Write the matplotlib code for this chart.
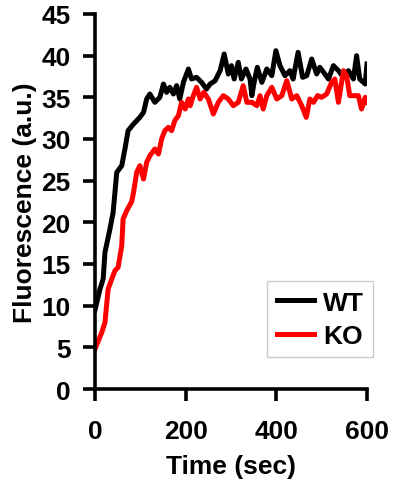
import matplotlib
matplotlib.use("Agg")
import matplotlib.pyplot as plt

# values
t_wt = [0, 4, 11, 18, 22, 33, 40, 44, 48, 59, 66, 73, 85, 99, 107, 114, 121, 132,
        143, 151, 158, 165, 173, 180, 187, 195, 206, 213, 224, 235, 246, 254, 265,
        276, 285, 294, 301, 307, 316, 323, 333, 342, 346, 351, 358, 368, 379, 390,
        399, 408, 419, 430, 437, 448, 458, 467, 478, 489, 496, 507, 515, 526, 537,
        548, 559, 570, 577, 584, 596, 600]
wt = [9.5, 10.4, 12, 13.2, 16.4, 19.2, 21.2, 23.6, 26, 26.8, 28.8, 31, 31.8, 32.6,
      33.2, 34.8, 35.4, 34.4, 35, 36.6, 35.6, 36.2, 35.4, 36.4, 34.8, 36.8, 38.4,
      37.2, 37.4, 36.8, 36, 36.6, 37, 38.2, 40.2, 37.8, 38.8, 37.2, 39.2, 37.2,
      38.4, 37.2, 35.2, 36.8, 38.6, 36.8, 38.4, 37.6, 40.6, 38.8, 37.6, 38.2, 37.2,
      40.4, 37.4, 37.6, 39.6, 37.8, 38.6, 37.8, 37.2, 38.8, 38.2, 37.4, 38.2, 37.2,
      40, 37.2, 36.6, 39]

t_ko = [0, 15, 22, 29, 37, 44, 51, 59, 62, 70, 81, 85, 92, 99, 107, 114, 121, 132,
        140, 147, 154, 162, 169, 176, 184, 191, 199, 206, 210, 217, 224, 232, 240,
        250, 261, 272, 283, 294, 305, 316, 327, 335, 346, 357, 364, 371, 379, 390,
        401, 412, 423, 434, 445, 456, 466, 474, 482, 491, 500, 511, 522, 529, 537,
        548, 555, 562, 574, 581, 588, 596, 600]
ko = [4.8, 6.8, 8, 12, 13.2, 14.2, 14.6, 17.2, 20.4, 21.4, 22.5, 23.6, 26, 26.8,
      25.2, 27.2, 28, 28.8, 28.2, 30, 31, 31.4, 31, 32.2, 32.8, 34.4, 33.6, 34.8,
      34, 35.2, 36.2, 34.8, 35.6, 34.8, 33, 34.4, 35.2, 34.8, 34, 34.4, 36.4, 34.4,
      34.4, 34, 35.2, 33.6, 35.2, 36.2, 34.8, 35.2, 37, 34.8, 35.2, 34, 32.6, 34.8,
      34.4, 35.2, 35, 35.4, 36.8, 37.2, 34.4, 38.2, 37.6, 35.2, 35.2, 35.2, 33.6,
      35, 34.4]

x_ticks = [0, 200, 400, 600]
y_ticks = [0, 5, 10, 15, 20, 25, 30, 35, 40, 45]

plt.rcParams['font.family'] = ['Liberation Sans', 'DejaVu Sans']
plt.rcParams['font.weight'] = 'bold'
plt.rcParams['font.size'] = 19

fig = plt.figure(figsize=(3.95, 4.85), dpi=100)
ax = fig.add_axes([95/395, 1 - 390/485, 272/395, 375/485])

ax.plot(t_wt, wt, color='black', lw=3.6, solid_joinstyle='round', label='WT')
ax.plot(t_ko, ko, color='#ff0000', lw=3.6, solid_joinstyle='round', label='KO')

ax.set_xlim(0, 600)
ax.set_ylim(0, 45)
ax.set_xticks(x_ticks)
ax.set_yticks(y_ticks)

for s in ['top', 'right']:
    ax.spines[s].set_visible(False)
for s in ['left', 'bottom']:
    ax.spines[s].set_linewidth(2.6)
ax.tick_params(axis='both', direction='out', length=8.5, width=2.6)
ax.tick_params(axis='y', pad=9)
ax.tick_params(axis='x', pad=13)

ax.set_xlabel('Time (sec)', fontweight='bold', fontsize=19, labelpad=8)
ax.set_ylabel('Fluorescence (a.u.)', fontweight='bold', fontsize=19, labelpad=3)

leg = ax.legend(loc='lower right', bbox_to_anchor=(373/395, 1 - 358/485),
                bbox_transform=fig.transFigure, borderaxespad=0,
                fancybox=False, frameon=True, handlelength=1.4,
                handletextpad=0.35, borderpad=0.35, labelspacing=0.35,
                prop={'weight': 'bold', 'size': 19})
leg.get_frame().set_edgecolor('#c0c0c0')
leg.get_frame().set_linewidth(1.0)

fig.savefig('out.png', dpi=100)
